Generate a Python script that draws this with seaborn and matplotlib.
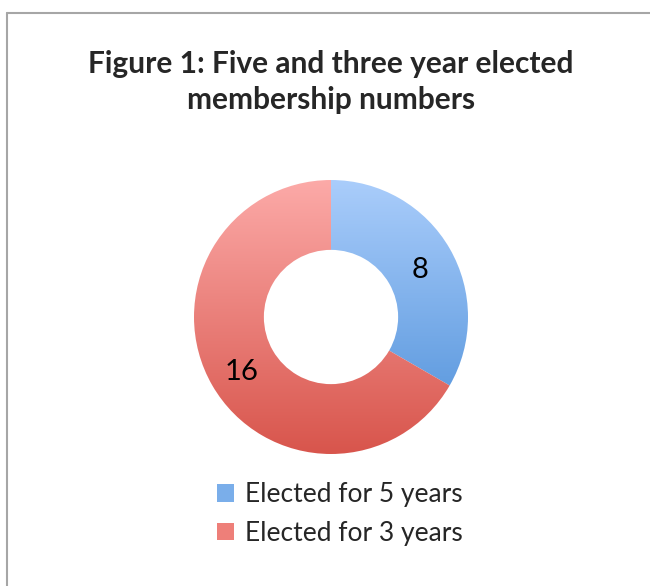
import matplotlib
matplotlib.use("Agg")
import matplotlib.pyplot as plt
import seaborn as sns
import numpy as np
from matplotlib.colors import LinearSegmentedColormap
from matplotlib.patches import Patch
from matplotlib.lines import Line2D

categories = ["Elected for 5 years", "Elected for 3 years"]
values = [8, 16]
title = "Figure 1: Five and three year elected\nmembership numbers"
top_colors = ["#aacdfb", "#fcaaa8"]
bottom_colors = ["#4b8ed8", "#d8554c"]
mid_colors = ["#7aaeea", "#ee7f79"]

sns.set_theme(style="white")
plt.rcParams['font.family'] = ['Lato', 'DejaVu Sans']

fig = plt.figure(figsize=(6.5, 5.86), dpi=100)
fig.patch.set_facecolor("white")

W, H = 650, 586
cx, cy, R = 331, 317, 137
ax = fig.add_axes([(cx - R) / W, (H - cy - R) / H, 2 * R / W, 2 * R / H])

total = sum(values)
wedges, texts, autotexts = ax.pie(
    values, startangle=90, counterclock=False, radius=1.0,
    wedgeprops=dict(width=0.51, linewidth=0, edgecolor="none"),
    autopct=lambda p: f"{round(p * total / 100)}", pctdistance=0.75,
    textprops=dict(fontsize=21, color="black"))
ax.set_xlim(-1, 1)
ax.set_ylim(-1, 1)
ax.set_aspect("equal")
ax.axis("off")

grad = np.linspace(1, 0, 256).reshape(-1, 1)
for w, tc, bc in zip(wedges, top_colors, bottom_colors):
    w.set_facecolor("none")
    cmap = LinearSegmentedColormap.from_list("g", [bc, tc])
    im = ax.imshow(grad, cmap=cmap, extent=[-1, 1, -1, 1], aspect="auto",
                   zorder=0.5, origin="upper", vmin=0, vmax=1)
    im.set_clip_path(w)
for t in autotexts:
    t.set_zorder(5)
    x, y = t.get_position()
    t.set_position((x, y - 0.03))

fig.text(cx / W, 1 - 82 / H, title, ha="center", va="center",
         fontsize=21.5, fontweight="bold", linespacing=1.36)

handles = [Patch(facecolor=c, edgecolor="none") for c in mid_colors]
fig.legend(handles, categories, loc="center", bbox_to_anchor=(340 / W, 1 - 514 / H),
           frameon=False, fontsize=19, handlelength=0.65, handleheight=0.65,
           handletextpad=0.4, labelspacing=0.5, borderpad=0)

border = "#a6a6a6"
fig.add_artist(Line2D([7 / W, 1], [1 - 13 / H, 1 - 13 / H], color=border, lw=1.5,
                      transform=fig.transFigure))
fig.add_artist(Line2D([7 / W, 7 / W], [0, 1 - 13 / H], color=border, lw=1.5,
                      transform=fig.transFigure))

fig.savefig("out.png", dpi=100, facecolor="white")
